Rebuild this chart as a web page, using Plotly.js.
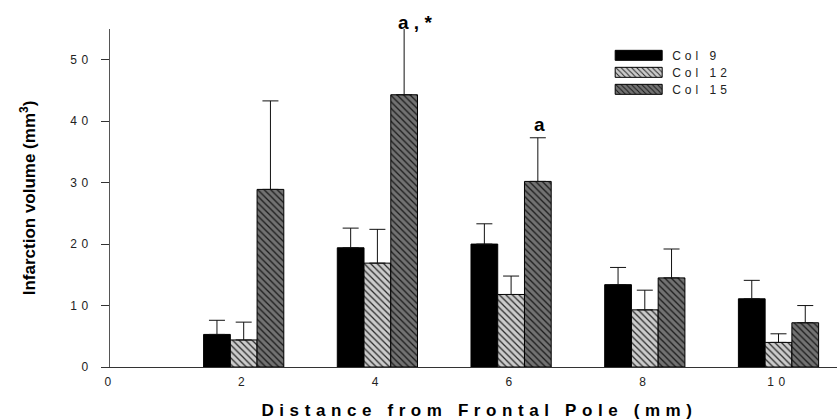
<!DOCTYPE html>
<html>
<head>
<meta charset="utf-8">
<script src="https://cdn.plot.ly/plotly-3.0.1.min.js"></script>
<style>
  html, body { margin: 0; padding: 0; background: #fff; }
  #chart { width: 837px; height: 420px; }
  .ytick text { letter-spacing: 4.5px; }
  .xtick text { letter-spacing: 4.5px; }
  text.xtitle { letter-spacing: 5.6px; transform: translate(6px, 0px); }
  text.legendtext { letter-spacing: 4px; }
</style>
</head>
<body>
<div id="chart"></div>
<script>
// Distance from frontal pole (mm)
var distances = [2, 4, 6, 8, 10];
var seriesNames = ['Col 9', 'Col 12', 'Col 15'];
// Infarction volume (mm^3), means
var col9  = [5.3, 19.4, 20.0, 13.4, 11.1];
var col12 = [4.4, 16.9, 11.8, 9.3, 4.0];
var col15 = [28.9, 44.3, 30.2, 14.5, 7.2];
// upper error bars
var col9Err  = [2.3, 3.2, 3.3, 2.8, 3.0];
var col12Err = [2.9, 5.5, 3.0, 3.2, 1.4];
var col15Err = [14.4, 12.0, 7.1, 4.7, 2.8];
var noErr = [0, 0, 0, 0, 0];
// axis ticks
var xTickVals = [0, 2, 4, 6, 8, 10];
var xTickText = ['0', '2', '4', '6', '8', '10'];
var yTickVals = [0, 10, 20, 30, 40, 50];
var yTickText = ['0', '10', '20', '30', '40', '50'];
// significance labels
var sigX = [4, 6];
var sigText = ['a , *', 'a'];

var font = 'Liberation Sans, Arial, sans-serif';

function errBar(arr) {
  return {type: 'data', symmetric: false, array: arr, arrayminus: noErr,
          color: '#111', thickness: 1, width: 8};
}

var data = [
  {type: 'bar', name: seriesNames[0], x: distances, y: col9,
   marker: {color: '#000', line: {color: '#000', width: 1}},
   error_y: errBar(col9Err)},
  {type: 'bar', name: seriesNames[1], x: distances, y: col12,
   marker: {color: '#cccccc', line: {color: '#000', width: 1},
            pattern: {shape: '\\', bgcolor: '#cbcbcb', fgcolor: '#2a2a2a', size: 4.6, solidity: 0.28}},
   error_y: errBar(col12Err)},
  {type: 'bar', name: seriesNames[2], x: distances, y: col15,
   marker: {color: '#6a6a6a', line: {color: '#000', width: 1},
            pattern: {shape: '\\', bgcolor: '#727272', fgcolor: '#1a1a1a', size: 4.6, solidity: 0.28}},
   error_y: errBar(col15Err)}
];

var annotations = [
  {x: sigX[0], y: 54.0, text: sigText[0], xref: 'x', yref: 'y', showarrow: false,
   xanchor: 'left', yanchor: 'bottom', xshift: 19, font: {family: font, size: 19, color: '#000', weight: 'bold'}},
  {x: sigX[1], y: 37.5, text: sigText[1], xref: 'x', yref: 'y', showarrow: false,
   xanchor: 'left', yanchor: 'bottom', xshift: 21, font: {family: font, size: 19, color: '#000', weight: 'bold'}}
];

var layout = {
  width: 837, height: 420,
  margin: {l: 110, r: 0, t: 29, b: 53},
  paper_bgcolor: '#fff', plot_bgcolor: '#fff',
  font: {family: font, size: 12, color: '#222'},
  barmode: 'group', bargap: 0.4, bargroupgap: 0,
  showlegend: true,
  legend: {x: 0.688, xanchor: 'left', y: 0.965, yanchor: 'top',
           bgcolor: 'rgba(0,0,0,0)', borderwidth: 0, itemwidth: 52,
           font: {family: font, size: 12, color: '#222'}, traceorder: 'normal'},
  xaxis: {range: [0, 10.875], tickmode: 'array', tickvals: xTickVals, ticktext: xTickText,
          ticks: '', showgrid: false, zeroline: false, showline: true, linecolor: '#333', linewidth: 1,
          ticklabelstandoff: 4, automargin: false,
          tickfont: {family: font, size: 12, color: '#222'},
          title: {text: 'Distance from Frontal Pole (mm)', standoff: 16,
                  font: {family: font, size: 17, color: '#000', weight: 'bold'}}},
  yaxis: {range: [0, 55], tickmode: 'array', tickvals: yTickVals, ticktext: yTickText,
          ticks: 'outside', ticklen: 8, tickcolor: '#333', tickwidth: 1,
          showgrid: false, zeroline: false, showline: true, linecolor: '#555', linewidth: 1,
          ticklabelstandoff: 6, automargin: false,
          tickfont: {family: font, size: 12, color: '#222'},
          title: {text: 'Infarction volume (mm<sup>3</sup>)', standoff: 30,
                  font: {family: font, size: 17, color: '#000', weight: 'bold'}}},
  annotations: annotations
};

var gd = document.getElementById('chart');
Plotly.newPlot(gd, data, layout, {staticPlot: true, displayModeBar: false}).then(function () {
  var items = gd.querySelectorAll('.legend .traces');
  var y0 = null;
  items.forEach(function (g, i) {
    var p = g.querySelector('.legendpoints path');
    if (p) { p.setAttribute('d', 'M5,-5H52V5H5Z'); p.removeAttribute('transform'); }
    var m = /translate\(([-\d.]+)[ ,]+([-\d.]+)\)/.exec(g.getAttribute('transform') || '');
    if (m) {
      if (y0 === null) y0 = parseFloat(m[2]);
      g.setAttribute('transform', 'translate(' + m[1] + ',' + (y0 + i * 17) + ')');
    }
  });
});
</script>
</body>
</html>
